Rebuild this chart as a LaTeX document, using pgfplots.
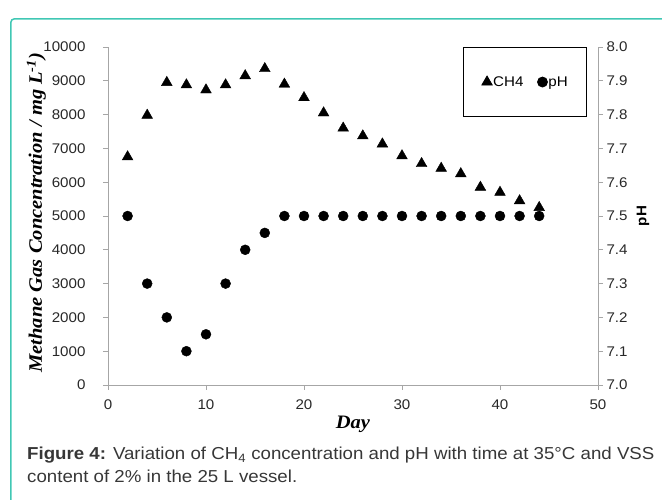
\documentclass[border=0pt]{standalone}
\usepackage{fontspec}
\setmainfont{Liberation Sans}[FakeStretch=1.08]
\newfontfamily\timesfont{Liberation Serif}[FakeStretch=1.08]
\usepackage{pgfplots}
\pgfplotsset{compat=1.18}
\definecolor{axgray}{RGB}{166,166,166}
\definecolor{framecol}{RGB}{64,199,180}
\definecolor{capgray}{RGB}{55,55,55}
\definecolor{tickcol}{RGB}{40,40,40}
\begin{document}
\begin{tikzpicture}
\useasboundingbox (-108pt,-115pt) rectangle (554pt,385pt);
\draw[framecol, line width=1.5pt, rounded corners=3pt] (-97pt,-125pt) -- (-97pt,366pt) -- (565pt,366pt);
\node[anchor=base west, text=capgray, font=\fontsize{17.3}{20}\selectfont, inner sep=0pt] at (-81pt,-75pt) {\textbf{Figure 4:} Variation of CH\textsubscript{4} concentration and pH with time at 35°C and VSS};
\node[anchor=base west, text=capgray, font=\fontsize{17.3}{20}\selectfont, inner sep=0pt] at (-81pt,-98pt) {content of 2\% in the 25 L vessel.};
\begin{axis}[
  at={(0pt,0pt)}, anchor=south west,
  width=490pt, height=338pt, scale only axis,
  xmin=0, xmax=50, ymin=0, ymax=10000,
  xtick={0,10,20,30,40,50},
  ytick={0,1000,2000,3000,4000,5000,6000,7000,8000,9000,10000},
  scaled y ticks=false,
  axis x line*=bottom, axis y line*=left,
  axis line style={draw=axgray, line width=0.8pt, -},
  tick align=outside, major tick length=5pt,
  tick style={draw=axgray, line width=0.8pt},
  ticklabel style={font=\fontsize{14}{16}\selectfont, text=tickcol},
  /pgf/number format/assume math mode=true,
  /pgf/number format/set thousands separator={},
  yticklabel style={xshift=-14pt},
  xticklabel style={yshift=-6pt},
  xlabel={Day},
  xlabel style={font=\timesfont\bfseries\itshape\fontsize{19}{22}\selectfont, at={(axis description cs:0.5,0)}, anchor=center, yshift=-39pt},
  ylabel={Methane Gas Concentration / mg L\textsuperscript{-1})},
  ylabel style={font=\timesfont\bfseries\itshape\fontsize{19}{22}\selectfont, at={(axis description cs:-0.146,0.51)}, anchor=center},
  clip=false,
]
\addplot[only marks, mark=triangle*, mark size=6.2pt, black] coordinates {
(2,6750)(4,7980)(6,8950)(8,8880)(10,8730)(12,8880)(14,9150)(16,9360)(18,8900)(20,8500)(22,8050)
(24,7600)(26,7370)(28,7130)(30,6780)(32,6550)(34,6410)(36,6250)(38,5850)(40,5700)(42,5450)(44,5250)};
\end{axis}
\begin{axis}[
  at={(0pt,0pt)}, anchor=south west,
  width=490pt, height=338pt, scale only axis,
  xmin=0, xmax=50, ymin=7, ymax=8,
  ytick={7.0,7.1,7.2,7.3,7.4,7.5,7.6,7.7,7.8,7.9,8.0},
  axis x line=none, axis y line*=right,
  axis line style={draw=axgray, line width=0.8pt, -},
  tick align=outside, major tick length=5pt,
  tick style={draw=axgray, line width=0.8pt},
  ticklabel style={font=\fontsize{14}{16}\selectfont, text=tickcol},
  /pgf/number format/assume math mode=true,
  yticklabel style={/pgf/number format/.cd, fixed, fixed zerofill, precision=1},
  ylabel={pH},
  ylabel style={font=\bfseries\fontsize{14}{16}\selectfont, at={(axis description cs:1.092,0.5)}, anchor=center},
  clip=false,
  legend columns=2,
  legend image code/.code={\draw[#1] plot coordinates {(5pt,0pt)};},
  legend style={at={(axis description cs:0.978,1)}, anchor=north east, draw=black, line width=0.8pt, fill=white,
    font=\fontsize{14}{16}\selectfont, inner xsep=18pt, inner ysep=27pt,
    nodes={inner xsep=1pt},
    /tikz/every even column/.append style={column sep=13pt}},
]
\addlegendimage{only marks, mark=triangle*, mark size=6pt, black}
\addlegendentry{CH4}
\addplot[only marks, mark=*, mark size=5pt, black] coordinates {
(2,7.5)(4,7.3)(6,7.2)(8,7.1)(10,7.15)(12,7.3)(14,7.4)(16,7.45)(18,7.5)(20,7.5)(22,7.5)
(24,7.5)(26,7.5)(28,7.5)(30,7.5)(32,7.5)(34,7.5)(36,7.5)(38,7.5)(40,7.5)(42,7.5)(44,7.5)};
\addlegendentry{pH}
\end{axis}
\end{tikzpicture}
\end{document}
